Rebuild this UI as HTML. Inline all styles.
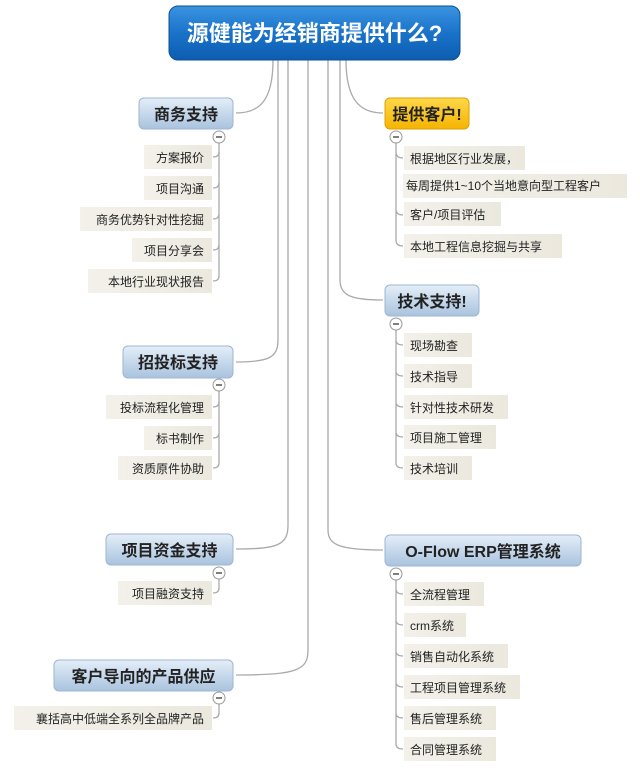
<!DOCTYPE html>
<html><head><meta charset="utf-8"><style>
html,body{margin:0;padding:0;background:#fff;}
svg{display:block;}
text{font-family:"Liberation Sans","Noto Sans CJK SC",sans-serif;}
.it{font-size:12px;fill:#222;}
.tp{font-size:16px;font-weight:bold;fill:#222;}
.ln{fill:none;stroke:#aaa;stroke-width:1.3;}
.bx{fill:url(#ib);}
</style></head><body>
<svg width="640" height="777" viewBox="0 0 640 777" xmlns="http://www.w3.org/2000/svg">
<defs>
<linearGradient id="rg" x1="0" y1="0" x2="0" y2="1"><stop offset="0" stop-color="#3a94e0"/><stop offset="0.5" stop-color="#1a73c9"/><stop offset="1" stop-color="#0c5db0"/></linearGradient>
<linearGradient id="bg" x1="0" y1="0" x2="0" y2="1"><stop offset="0" stop-color="#e4eef8"/><stop offset="1" stop-color="#a9c3de"/></linearGradient>
<linearGradient id="yg" x1="0" y1="0" x2="0" y2="1"><stop offset="0" stop-color="#ffd84a"/><stop offset="1" stop-color="#f5b400"/></linearGradient>
<linearGradient id="ib" x1="0" y1="0" x2="1" y2="0"><stop offset="0" stop-color="#f3f1ea"/><stop offset="1" stop-color="#ebe8de"/></linearGradient>
</defs>

<!-- trunk connectors -->
<path class="ln" d="M273 60 C273 100 260 113 236 113"/>
<path class="ln" d="M278 60 L278 340 C278 358 268 362 236 362"/>
<path class="ln" d="M288 60 L288 525 C288 545 278 549 236 549"/>
<path class="ln" d="M308 60 L308 650 C308 670 298 675 236 675"/>
<path class="ln" d="M346 60 C346 100 360 113 383 113"/>
<path class="ln" d="M340 60 L340 280 C340 296 352 300 383 300"/>
<path class="ln" d="M328 60 L328 530 C328 545 340 550 383 550"/>

<!-- root -->
<rect x="169" y="6" width="291" height="54" rx="9" fill="url(#rg)" stroke="#0b4f97"/>
<text x="314.5" y="41" text-anchor="middle" font-size="22" font-weight="bold" fill="#fff">源健能为经销商提供什么?</text>

<!-- left topics -->
<rect x="139" y="98" width="94" height="31" rx="5" fill="url(#bg)" stroke="#9db6d2"/>
<text class="tp" x="186" y="120" text-anchor="middle">商务支持</text>
<rect x="123" y="346" width="110" height="32" rx="5" fill="url(#bg)" stroke="#9db6d2"/>
<text class="tp" x="178" y="368" text-anchor="middle">招投标支持</text>
<rect x="106" y="534" width="127" height="31" rx="5" fill="url(#bg)" stroke="#9db6d2"/>
<text class="tp" x="169.5" y="556" text-anchor="middle">项目资金支持</text>
<rect x="54" y="660" width="179" height="31" rx="5" fill="url(#bg)" stroke="#9db6d2"/>
<text class="tp" x="143.5" y="682" text-anchor="middle">客户导向的产品供应</text>

<!-- right topics -->
<rect x="385" y="98" width="84" height="31" rx="5" fill="url(#yg)" stroke="#e0a000"/>
<text class="tp" x="427" y="120" text-anchor="middle">提供客户!</text>
<rect x="385" y="285" width="94" height="31" rx="5" fill="url(#bg)" stroke="#9db6d2"/>
<text class="tp" x="432" y="307" text-anchor="middle">技术支持!</text>
<rect x="385" y="535" width="196" height="31" rx="5" fill="url(#bg)" stroke="#9db6d2"/>
<text class="tp" x="483" y="557" text-anchor="middle" font-weight="normal">O-Flow ERP管理系统</text>

<!-- left group 1 -->
<path class="ln" d="M219 143 L219 276 Q219 281 213 281"/>
<path class="ln" d="M219 152 Q219 157 213 157 M219 183 Q219 188 213 188 M219 214 Q219 219 213 219 M219 245 Q219 250 213 250"/>
<rect class="bx" x="144" y="145" width="68" height="24"/><text class="it" x="204" y="162" text-anchor="end">方案报价</text>
<rect class="bx" x="144" y="176" width="68" height="24"/><text class="it" x="204" y="193" text-anchor="end">项目沟通</text>
<rect class="bx" x="80" y="207" width="132" height="24"/><text class="it" x="204" y="224" text-anchor="end">商务优势针对性挖掘</text>
<rect class="bx" x="132" y="238" width="80" height="24"/><text class="it" x="204" y="255" text-anchor="end">项目分享会</text>
<rect class="bx" x="88" y="269" width="124" height="24"/><text class="it" x="204" y="286" text-anchor="end">本地行业现状报告</text>

<!-- left group 2 -->
<path class="ln" d="M219 391 L219 463 Q219 468 213 468 M219 402 Q219 407 213 407 M219 433 Q219 438 213 438"/>
<rect class="bx" x="106" y="395" width="106" height="24"/><text class="it" x="204" y="412" text-anchor="end">投标流程化管理</text>
<rect class="bx" x="144" y="426" width="68" height="24"/><text class="it" x="204" y="443" text-anchor="end">标书制作</text>
<rect class="bx" x="118" y="456" width="94" height="24"/><text class="it" x="204" y="473" text-anchor="end">资质原件协助</text>

<!-- left group 3 -->
<path class="ln" d="M219 579 L219 588 Q219 593 213 593"/>
<rect class="bx" x="118" y="581" width="94" height="24"/><text class="it" x="204" y="598" text-anchor="end">项目融资支持</text>

<!-- left group 4 -->
<path class="ln" d="M219 704 L219 713 Q219 718 213 718"/>
<rect class="bx" x="14" y="706" width="198" height="24"/><text class="it" x="204" y="723" text-anchor="end">襄括高中低端全系列全品牌产品</text>

<!-- right group 1 -->
<path class="ln" d="M396 143 L396 240 Q396 246 403 246 M396 152 Q396 158 403 158 M396 209 Q396 215 403 215"/>
<rect class="bx" x="404" y="146" width="121" height="24"/><text class="it" x="410" y="163">根据地区行业发展，</text>
<rect class="bx" x="403" y="174" width="224" height="24"/><text class="it" x="406" y="190">每周提供1~10个当地意向型工程客户</text>
<rect class="bx" x="404" y="202" width="97" height="24"/><text class="it" x="410" y="219">客户/项目评估</text>
<rect class="bx" x="404" y="234" width="158" height="24"/><text class="it" x="410" y="251">本地工程信息挖掘与共享</text>

<!-- right group 2 -->
<path class="ln" d="M396 330 L396 463 Q396 468 403 468 M396 340 Q396 345 403 345 M396 371 Q396 376 403 376 M396 402 Q396 407 403 407 M396 432 Q396 437 403 437"/>
<rect class="bx" x="404" y="333" width="68" height="24"/><text class="it" x="410" y="350">现场勘查</text>
<rect class="bx" x="404" y="364" width="68" height="24"/><text class="it" x="410" y="381">技术指导</text>
<rect class="bx" x="404" y="395" width="104" height="24"/><text class="it" x="410" y="412">针对性技术研发</text>
<rect class="bx" x="404" y="425" width="92" height="24"/><text class="it" x="410" y="442">项目施工管理</text>
<rect class="bx" x="404" y="456" width="68" height="24"/><text class="it" x="410" y="473">技术培训</text>

<!-- right group 3 -->
<path class="ln" d="M396 580 L396 744 Q396 749 403 749 M396 589 Q396 594 403 594 M396 620 Q396 625 403 625 M396 651 Q396 656 403 656 M396 682 Q396 687 403 687 M396 713 Q396 718 403 718"/>
<rect class="bx" x="404" y="582" width="80" height="24"/><text class="it" x="410" y="599">全流程管理</text>
<rect class="bx" x="404" y="613" width="62" height="24"/><text class="it" x="410" y="630">crm系统</text>
<rect class="bx" x="404" y="644" width="104" height="24"/><text class="it" x="410" y="661">销售自动化系统</text>
<rect class="bx" x="404" y="675" width="116" height="24"/><text class="it" x="410" y="692">工程项目管理系统</text>
<rect class="bx" x="404" y="706" width="92" height="24"/><text class="it" x="410" y="723">售后管理系统</text>
<rect class="bx" x="404" y="737" width="92" height="24"/><text class="it" x="410" y="754">合同管理系统</text>

<!-- minus circles -->
<g fill="#fff" stroke="#999" stroke-width="1">
<circle cx="219" cy="137" r="6"/><circle cx="219" cy="385" r="6"/><circle cx="219" cy="573" r="6"/><circle cx="219" cy="698" r="6"/>
<circle cx="396" cy="137" r="6"/><circle cx="396" cy="324" r="6"/><circle cx="396" cy="574" r="6"/>
</g>
<g stroke="#555" stroke-width="1.5">
<path d="M216 137h6M216 385h6M216 573h6M216 698h6M393 137h6M393 324h6M393 574h6"/>
</g>
</svg>
</body></html>
